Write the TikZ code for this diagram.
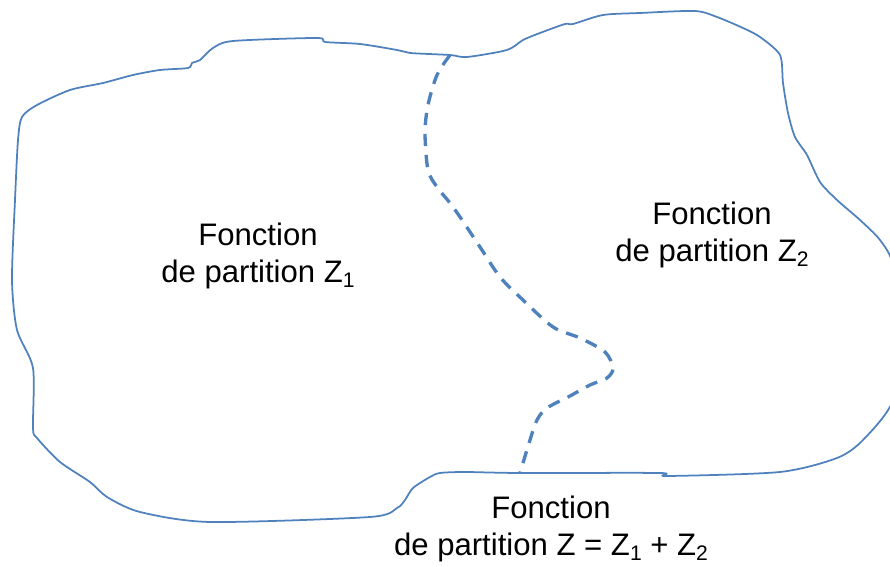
\documentclass[tikz,border=0pt]{standalone}
\usepackage{fontspec}
\setmainfont{Liberation Sans}
\definecolor{outl}{HTML}{4F81BD}
\newcommand\mysub[1]{\raisebox{-2.6pt}{\fontsize{12pt}{12pt}\selectfont #1}}
\begin{document}
\begin{tikzpicture}[x=0.02cm,y=-0.02cm,
  outline/.style={draw=outl,line width=1pt,line join=round},
  divider/.style={draw=outl,line width=1.9pt,dash pattern=on 7pt off 5pt},
  lbl/.style={align=center,inner sep=0pt,font=\fontsize{17.7pt}{21pt}\selectfont}]
\useasboundingbox (0,0) rectangle (890,567);
\begin{scope}
\clip (0,0) rectangle (890,567);
\draw[outline] plot[smooth cycle,tension=0.45] coordinates {
(450,55) (467,57) (507,50) (523,40) (540,33) (565,24) (573,24) (603,15) (640,13) (695,11) (717,17) (743,28) (760,37) (780,55) (783,83) (788,113) (795,137) (807,155) (820,182) (837,200) (860,220) (880,240) (893,265) (898,330) (893,400) (863,440) (837,458) (780,472) (667,476) (660,473) (520,473) (465,472) (440,473) (430,477) (413,488) (405,500) (397,508) (370,517) (210,522) (140,512) (107,497) (90,482) (60,462) (37,438) (33,428) (33,368) (17,330) (12,280) (15,200) (18,140) (22,117) (37,105) (70,90) (103,83) (133,75) (160,70) (188,68) (192,63) (200,60) (213,48) (233,41) (317,38) (325,42) (360,44) (397,50) (410,53)};
\end{scope}
\coordinate (top) at (450,55);
\coordinate (bot) at (520,473);
\draw[divider] plot[smooth,tension=0.5] coordinates {(top) (437,75) (428,105) (425,133) (428,170) (437,187) (450,203) (460,217) (480,247) (500,277) (523,300) (553,327) (580,338) (605,352) (613,368) (607,378) (590,385) (570,396) (547,408) (537,420) (530,440) (bot)};
\node[lbl] (z1) at (258,256) {Fonction\\de partition Z\mysub{1}};
\node[lbl] (z2) at (712,235) {Fonction\\de partition Z\mysub{2}};
\node[lbl] (z) at (551,529) {Fonction\\de partition Z = Z\mysub{1} + Z\mysub{2}};
\end{tikzpicture}
\end{document}
